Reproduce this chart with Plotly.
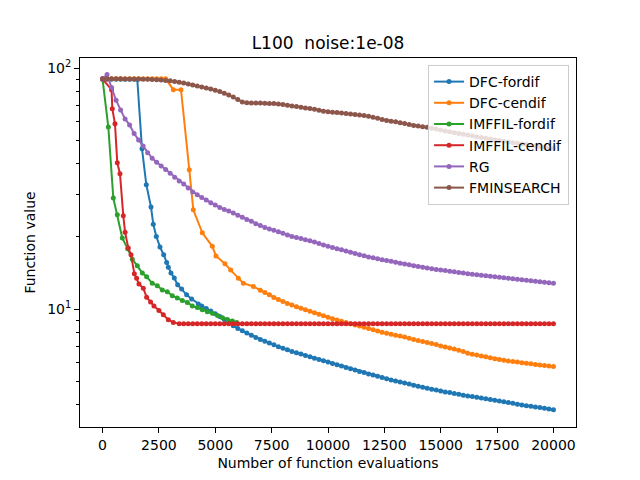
import plotly.graph_objs as go

# Evaluation counter used as sampling grid (every 200 evaluations)
EVALS = [
    0, 200, 400, 600, 800, 1000, 1200, 1400, 1600, 1800,
    2000, 2200, 2400, 2600, 2800, 3000, 3200, 3400, 3600, 3800,
    4000, 4200, 4400, 4600, 4800, 5000, 5200, 5400, 5600, 5800,
    6000, 6200, 6400, 6600, 6800, 7000, 7200, 7400, 7600, 7800,
    8000, 8200, 8400, 8600, 8800, 9000, 9200, 9400, 9600, 9800,
    10000, 10200, 10400, 10600, 10800, 11000, 11200, 11400, 11600, 11800,
    12000, 12200, 12400, 12600, 12800, 13000, 13200, 13400, 13600, 13800,
    14000, 14200, 14400, 14600, 14800, 15000, 15200, 15400, 15600, 15800,
    16000, 16200, 16400, 16600, 16800, 17000, 17200, 17400, 17600, 17800,
    18000, 18200, 18400, 18600, 18800, 19000, 19200, 19400, 19600, 19800,
    20000,
]

# DFC-fordif
DFC_FOR_X = EVALS[:8] + [1541, 1750, 1941, 2149, 2250, 2385, 2548, 2711, 2844,
                         2917, 3035, 3183, 3331, 3508, 3730, 3952, 4248] + EVALS[22:]
DFC_FOR_Y = [
    89.8, 89.8, 89.8, 89.8, 89.8, 89.8, 89.8, 89.8,
    89.6, 46.2, 32.8, 26.5, 22.5, 20.0, 18.1, 16.8, 15.6, 14.9, 14.1, 13.45,
    12.6, 12.1, 11.45, 11.0, 10.5,
    10.3, 10.05, 9.8, 9.55, 9.3, 9.05, 8.75, 8.52,
    8.3, 8.12, 7.95, 7.78, 7.62, 7.48, 7.35, 7.22, 7.1, 6.98,
    6.87, 6.77, 6.67, 6.58, 6.5, 6.41, 6.33, 6.25, 6.17, 6.1,
    6.02, 5.94, 5.87, 5.8, 5.72, 5.65, 5.58, 5.51, 5.45, 5.38,
    5.32, 5.26, 5.2, 5.14, 5.08, 5.03, 4.98, 4.93, 4.88, 4.83,
    4.78, 4.73, 4.69, 4.65, 4.61, 4.57, 4.53, 4.5, 4.46, 4.43,
    4.39, 4.36, 4.33, 4.3, 4.27, 4.24, 4.21, 4.18, 4.15, 4.12,
    4.09, 4.06, 4.03, 4.0, 3.97, 3.95, 3.92, 3.9, 3.87, 3.85,
    3.82,
]

# DFC-cendif
DFC_CEN_X = EVALS[:15] + [3140, 3480, 3848, 4026, 4425, 4868, 5032, 5431,
                          5683, 6023, 6245, 6688] + EVALS[35:]
DFC_CEN_Y = [
    90.2, 90.2, 90.2, 90.2, 90.2, 90.2, 90.2, 90.2, 90.2, 90.2,
    90.2, 90.2, 90.2, 90.2, 90.2,
    81.3, 81.3, 37.8, 25.8, 20.7, 18.2, 16.6, 15.4, 14.5, 13.4, 12.8, 12.4,
    11.95, 11.7, 11.45, 11.15, 10.95,
    10.75, 10.55, 10.38, 10.22, 10.07, 9.93, 9.79, 9.65, 9.5, 9.37,
    9.25, 9.12, 9.0, 8.9, 8.78, 8.68, 8.59, 8.5, 8.4, 8.3,
    8.2, 8.1, 8.0, 7.93, 7.86, 7.79, 7.72, 7.65, 7.57, 7.48,
    7.4, 7.33, 7.26, 7.19, 7.12, 7.03, 6.96, 6.89, 6.82, 6.75,
    6.66, 6.56, 6.49, 6.44, 6.39, 6.33, 6.27, 6.22, 6.18, 6.13,
    6.09, 6.06, 6.03, 5.99, 5.96, 5.93, 5.89, 5.86, 5.83, 5.8,
    5.77,
]

# IMFFIL-fordif (stops after ~6000 evaluations)
IMF_FOR_X = [0, 256, 477, 655, 876, 1113, 1320, 1542, 1764, 1955,
             2205, 2428, 2650, 2872, 3094, 3316, 3538, 3760, 3981, 4203,
             4425, 4650, 4870, 5100, 5320, 5540, 5760, 5950]
IMF_FOR_Y = [90.0, 56.9, 28.9, 24.6, 19.7, 17.8, 16.1, 15.1, 14.1, 13.6,
             12.8, 12.5, 12.0, 11.8, 11.35, 11.1, 10.85, 10.65, 10.3, 10.15,
             9.93, 9.75, 9.6, 9.4, 9.2, 9.05, 8.92, 8.8]

# IMFFIL-cendif
IMF_CEN_X = [0, 400, 433, 552, 654, 773, 920, 1000, 1143, 1262,
             1410, 1512, 1615, 1808, 1955, 2130, 2280, 2502, 2696, 2917,
             3140] + EVALS[17:]
IMF_CEN_Y = [
    90.0, 81.3, 67.8, 58.7, 40.4, 36.4, 24.4, 20.8, 17.9, 16.8,
    14.0, 13.4, 12.7, 12.2, 11.2, 10.7, 10.3, 9.85, 9.47, 9.03,
    8.8,
    8.69, 8.69, 8.69,
    8.69, 8.69, 8.69, 8.69, 8.69, 8.69, 8.69, 8.69, 8.69, 8.69,
    8.69, 8.69, 8.69, 8.69, 8.69, 8.69, 8.69, 8.69, 8.69, 8.69,
    8.69, 8.69, 8.69, 8.69, 8.69, 8.69, 8.69, 8.69, 8.69, 8.69,
    8.69, 8.69, 8.69, 8.69, 8.69, 8.69, 8.69, 8.69, 8.69, 8.69,
    8.69, 8.69, 8.69, 8.69, 8.69, 8.69, 8.69, 8.69, 8.69, 8.69,
    8.69, 8.69, 8.69, 8.69, 8.69, 8.69, 8.69, 8.69, 8.69, 8.69,
    8.69, 8.69, 8.69, 8.69, 8.69, 8.69, 8.69, 8.69, 8.69, 8.69,
    8.69, 8.69, 8.69, 8.69, 8.69, 8.69, 8.69, 8.69, 8.69, 8.69,
    8.69,
]

# RG
RG_Y = [
    90.0, 94.0, 83.0, 73.5, 67.0, 61.5, 58.0, 53.5, 50.3, 47.5,
    44.5, 42.2, 40.6, 39.2, 37.9, 36.6, 35.2, 34.0, 33.0, 31.8,
    30.6, 29.8, 29.0, 28.3, 27.6, 27.0, 26.4, 25.9, 25.5, 25.0,
    24.5, 24.0, 23.5, 23.1, 22.6, 22.2, 21.8, 21.5, 21.2, 20.9,
    20.6, 20.3, 20.0, 19.8, 19.6, 19.4, 19.2, 18.95, 18.7, 18.45,
    18.2, 18.0, 17.8, 17.6, 17.4, 17.2, 17.0, 16.8, 16.62, 16.45,
    16.3, 16.15, 16.02, 15.9, 15.78, 15.65, 15.5, 15.38, 15.25, 15.12,
    15.0, 14.9, 14.8, 14.7, 14.6, 14.52, 14.43, 14.34, 14.26, 14.18,
    14.1, 14.02, 13.95, 13.88, 13.8, 13.73, 13.66, 13.6, 13.54, 13.48,
    13.42, 13.36, 13.3, 13.23, 13.17, 13.1, 13.04, 12.98, 12.92, 12.86,
    12.8,
]

# FMINSEARCH
FMIN_Y = [
    90.3, 90.3, 90.2, 90.2, 90.2, 90.1, 90.1, 90.0, 90.0, 89.9,
    89.8, 89.6, 89.4, 89.1, 88.8, 88.5, 88.0, 87.3, 86.6, 85.9,
    85.1, 84.3, 83.5, 82.7, 81.8, 80.8, 79.8, 78.6, 77.2, 75.8,
    74.0, 72.3, 71.8, 71.6, 71.6, 71.5, 71.4, 71.3, 71.2, 70.9,
    70.5, 70.0, 69.5, 69.2, 68.8, 68.3, 67.9, 67.4, 66.8, 66.2,
    65.8, 65.6, 65.3, 65.0, 64.7, 64.4, 64.1, 63.8, 63.5, 63.0,
    62.4, 61.8, 61.2, 60.6, 60.1, 59.8, 59.3, 58.8, 58.3, 57.8,
    57.4, 57.1, 56.8, 56.3, 55.8, 55.3, 54.8, 54.4, 53.9, 53.5,
    53.1, 52.7, 52.3, 51.9, 51.5, 51.1, 50.7, 50.4, 50.0, 49.7,
    49.3, 49.0, 48.7, 48.4, 48.1, 47.8, 47.5, 47.2, 46.9, 46.7,
    46.5,
]

SERIES = [
    ("DFC-fordif", DFC_FOR_X, DFC_FOR_Y, "#1f77b4"),
    ("DFC-cendif", DFC_CEN_X, DFC_CEN_Y, "#ff7f0e"),
    ("IMFFIL-fordif", IMF_FOR_X, IMF_FOR_Y, "#2ca02c"),
    ("IMFFIL-cendif", IMF_CEN_X, IMF_CEN_Y, "#d62728"),
    ("RG", EVALS, RG_Y, "#9467bd"),
    ("FMINSEARCH", EVALS, FMIN_Y, "#8c564b"),
]

X_TICKS = [0, 2500, 5000, 7500, 10000, 12500, 15000, 17500, 20000]
Y_MINOR = [4, 5, 6, 7, 8, 9, 20, 30, 40, 50, 60, 70, 80, 90]

FONT = "DejaVu Sans"

fig = go.Figure()
for name, xs, ys, color in SERIES:
    assert len(xs) == len(ys), name
    fig.add_trace(go.Scatter(
        x=xs, y=ys, mode="lines+markers", name=name,
        line=dict(color=color, width=2),
        marker=dict(color=color, size=5),
    ))

axis_common = dict(
    showline=True, linecolor="black", linewidth=1, mirror=True,
    showgrid=False, zeroline=False, ticks="outside", ticklen=5,
    tickwidth=1, tickcolor="black",
    tickfont=dict(family=FONT, size=14, color="black"),
)

# the page body adds an 8px offset, so margins are shifted to compensate
fig.update_layout(
    width=640, height=480,
    paper_bgcolor="white", plot_bgcolor="white",
    margin=dict(l=72, r=72, t=50, b=61),
    font=dict(family=FONT, size=14, color="black"),
    title=dict(text="L100  noise:1e-08", x=0.5, xref="paper",
               y=1 - 35 / 480, yref="container", yanchor="middle",
               font=dict(family=FONT, size=17, color="black")),
    xaxis=dict(
        range=[-1000, 21000], tickvals=X_TICKS, tickformat="d",
        title=dict(text="Number of function evaluations", standoff=6,
                   font=dict(family=FONT, size=14, color="black")),
        **axis_common,
    ),
    yaxis=dict(
        type="log", range=[0.5104, 2.0415],
        tickvals=[10, 100], ticktext=["10<sup>1</sup>", "10<sup>2</sup>"],
        minor=dict(tickvals=Y_MINOR, ticks="outside", ticklen=3,
                   tickcolor="black", tickwidth=1),
        title=dict(text="Function value", standoff=8,
                   font=dict(family=FONT, size=14, color="black")),
        **axis_common,
    ),
    legend=dict(
        x=0.986, y=0.981, xanchor="right", yanchor="top",
        bgcolor="rgba(255,255,255,0.8)", bordercolor="#cccccc", borderwidth=1,
        font=dict(family=FONT, size=14, color="black"),
        itemwidth=30,
    ),
    showlegend=True,
)

fig.write_html("out.html")
